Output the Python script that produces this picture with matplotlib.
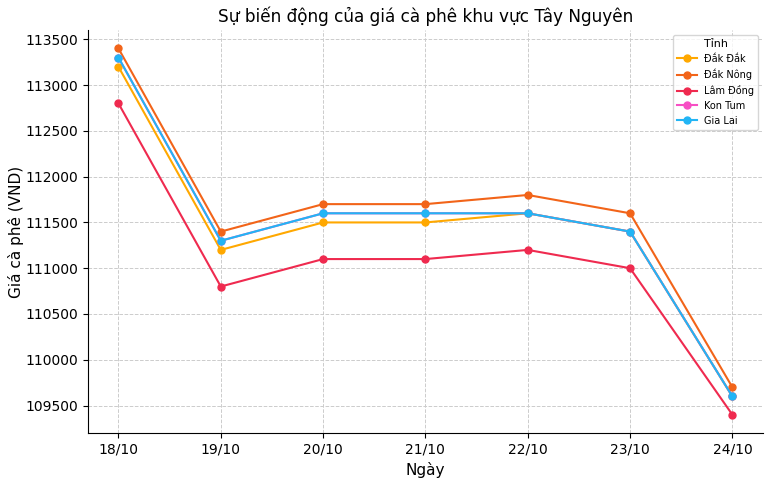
import matplotlib
matplotlib.use("Agg")
import matplotlib.pyplot as plt

days = ["18/10", "19/10", "20/10", "21/10", "22/10", "23/10", "24/10"]
dak_lak = [113200, 111200, 111500, 111500, 111600, 111400, 109600]
dak_nong = [113400, 111400, 111700, 111700, 111800, 111600, 109700]
lam_dong = [112800, 110800, 111100, 111100, 111200, 111000, 109400]
kon_tum = [113300, 111300, 111600, 111600, 111600, 111400, 109600]
gia_lai = [113300, 111300, 111600, 111600, 111600, 111400, 109600]

names = ["Đắk Đắk", "Đắk Nông", "Lâm Đồng", "Kon Tum", "Gia Lai"]
series = [dak_lak, dak_nong, lam_dong, kon_tum, gia_lai]
colors = ["#FFA800", "#F26419", "#EF2A4F", "#F74FC4", "#22B5F5"]

fig = plt.figure(figsize=(7.7, 4.79), dpi=100)
ax = fig.add_axes([0.114, 0.096, 0.877, 0.841])

x = list(range(len(days)))
for name, vals, c in zip(names, series, colors):
    ax.plot(x, vals, marker="o", color=c, label=name, linewidth=1.5, markersize=5)

ax.set_xticks(x)
ax.set_xticklabels(days)
ax.set_title("Sự biến động của giá cà phê khu vực Tây Nguyên", fontsize=12.2)
ax.set_xlabel("Ngày", fontsize=11)
ax.set_ylabel("Giá cà phê (VND)", fontsize=11, labelpad=1)
ax.tick_params(labelsize=10)
ax.grid(True, linestyle="--", color="#cccccc", linewidth=0.7)
ax.spines["top"].set_visible(False)
ax.spines["right"].set_visible(False)
ax.legend(title="Tỉnh", fontsize=7, title_fontsize=8, loc="upper right")

fig.savefig("out.png", dpi=100)
